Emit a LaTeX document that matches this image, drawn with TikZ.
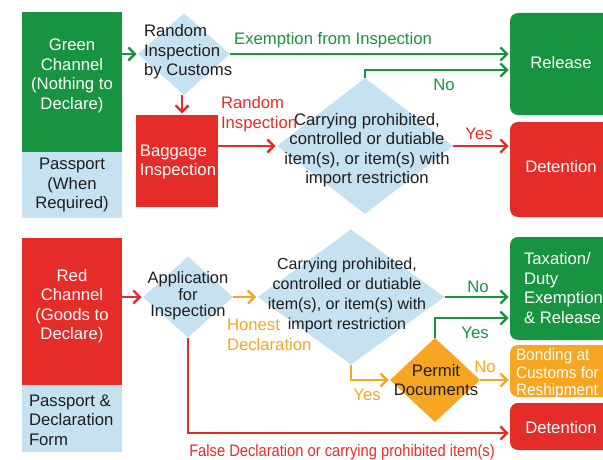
\documentclass[tikz,border=0pt]{standalone}
\usepackage{fontspec}
\setmainfont{Liberation Sans}
\usetikzlibrary{shapes.geometric,arrows.meta}
\definecolor{cgreen}{RGB}{24,148,64}
\definecolor{cred}{RGB}{228,45,40}
\definecolor{corange}{RGB}{246,166,35}
\definecolor{cblue}{RGB}{198,226,241}
\definecolor{ctext}{RGB}{30,30,30}
\begin{document}
\begin{tikzpicture}[x=1pt,y=-1pt,
  font=\fontsize{16.7}{19.5}\selectfont,
  every node/.style={inner sep=0pt,outer sep=0pt},
  sqbox/.style={draw=none},
  rbox/.style={draw=none,rounded corners=8pt},
  dia/.style={diamond,draw=none,fill=cblue,inner sep=0pt},
  txt/.style={align=center,text=ctext},
  wtxt/.style={align=center,text=white},
  lbl/.style={align=left},
  arr/.style={line width=2.3pt,shorten >=1.5pt,-{Straight Barb[length=6.5pt,width=13pt]}},
  garrow/.style={arr,draw=cgreen},
  rarrow/.style={arr,draw=cred},
  oarrow/.style={arr,draw=corange}]
\useasboundingbox (0,0) rectangle (603,460);
\clip (0,0) rectangle (603,460);
\coordinate (noY) at (0,70);
\coordinate (yesY) at (0,318);
\coordinate (falseY) at (0,433);

% ---------- top half ----------
\node[sqbox,fill=cgreen,minimum width=100pt,minimum height=140pt] (gch) at (72,82) {};
\node[wtxt] (gcht) at (72,76) {Green\\Channel\\(Nothing to\\Declare)};
\node[sqbox,fill=cblue,minimum width=100pt,minimum height=66pt] (pp1) at (72,185) {};
\node[txt] (pp1t) at (72,185) {Passport\\(When\\Required)};

\node[dia,minimum width=92pt,minimum height=82pt] (rnd) at (184,54) {};
\node[txt,align=left,anchor=west] (rndt) at (144,52) {Random\\Inspection\\by Customs};

\node[sqbox,fill=cred,minimum width=82pt,minimum height=92pt] (bag) at (177,161) {};
\node[wtxt,align=left] (bagt) at (178,162) {Baggage\\Inspection};

\node[dia,minimum width=176pt,minimum height=136pt] (d1) at (365,146) {};
\node[txt] (d1t) at (367,150) {Carrying prohibited,\\controlled or dutiable\\item(s), or item(s) with\\import restriction};

\node[rbox,fill=cgreen,minimum width=104pt,minimum height=102pt] (rel) at (562,64) {};
\node[wtxt] (relt) at (561,63) {Release};
\node[rbox,fill=cred,minimum width=104pt,minimum height=95pt] (det1) at (562,169.5) {};
\node[wtxt] (det1t) at (561,167) {Detention};

\node[lbl,text=cgreen] (exl) at (333,40) {Exemption from Inspection};
\node[lbl,text=cred,anchor=west] (ril) at (221,114) {Random\\Inspection};
\node[text=cgreen] (no1) at (444,85) {No};
\node[text=cred] (yes1) at (479,134) {Yes};

\draw[garrow] (gch.east |- rnd.west) -- (rnd.west);
\draw[garrow] (rnd.east) -- (rel.west |- rnd.east);
\draw[rarrow] ([xshift=-2pt]rnd.south) -- ([xshift=-2pt]rnd.south |- bag.north);
\draw[rarrow] (bag.east |- d1.west) -- (d1.west);
\draw[garrow] (d1.north) |- (rel.west |- noY);
\draw[rarrow] (d1.east) -- (det1.west |- d1.east);

% ---------- bottom half ----------
\node[sqbox,fill=cred,minimum width=100pt,minimum height=147pt] (rch) at (72,311.5) {};
\node[wtxt] (rcht) at (72,306) {Red\\Channel\\(Goods to\\Declare)};
\node[sqbox,fill=cblue,minimum width=100pt,minimum height=67pt] (pp2) at (72,418.5) {};
\node[txt,align=left,anchor=west] (pp2t) at (29,420) {Passport \&\\Declaration\\Form};

\node[dia,minimum width=90pt,minimum height=81pt] (app) at (188,297) {};
\node[txt,font=\fontsize{16.5}{16.5}\selectfont] (appt) at (188,296) {Application\\for\\Inspection};

\node[dia,minimum width=187pt,minimum height=135pt] (d2) at (351,297) {};
\node[txt,font=\fontsize{16}{20}\selectfont] (d2t) at (347,295) {Carrying prohibited,\\controlled or dutiable\\item(s), or item(s) with\\import restriction};

\node[diamond,draw=none,fill=corange,minimum width=90pt,minimum height=84pt] (pmt) at (435,380) {};
\node[txt] (pmtt) at (436,380) {Permit\\Documents};

\node[rbox,fill=cgreen,minimum width=104pt,minimum height=103pt] (tax) at (562,288.5) {};
\node[wtxt,align=left,anchor=west] (taxt) at (524,288) {Taxation/\\Duty\\Exemption\\\& Release};
\node[rbox,fill=corange,minimum width=104pt,minimum height=52pt] (bond) at (562,371) {};
\node[wtxt,align=left,anchor=west,font=\fontsize{16.5}{17.5}\selectfont] (bondt) at (516,374) {\scalebox{0.93}[1]{Bonding at}\\\scalebox{0.93}[1]{Customs for}\\\scalebox{0.93}[1]{Reshipment}};
\node[rbox,fill=cred,minimum width=104pt,minimum height=47pt] (det2) at (562,426.5) {};
\node[wtxt] (det2t) at (561,428) {Detention};

\node[lbl,text=corange,anchor=west] (hdl) at (227,335) {Honest\\Declaration};
\node[text=cgreen] (no2) at (478,287) {No};
\node[text=cgreen] (yes2) at (475,333) {Yes};
\node[text=corange] (no3) at (485,367) {No};
\node[text=corange] (yes3) at (367,395) {Yes};
\node[text=cred] (fdl) at (342,452) {\scalebox{0.88}[1]{False Declaration or carrying prohibited item(s)}};

\draw[rarrow] (rch.east |- app.west) -- (app.west);
\draw[oarrow] (app.east) -- (d2.west);
\draw[garrow] (d2.east) -- (tax.west |- d2.east);
\draw[oarrow] (d2.south) |- (pmt.west);
\draw[oarrow] (pmt.east) -- (bond.west |- pmt.east);
\draw[garrow] (pmt.north) |- (tax.west |- yesY);
\draw[rarrow] (app.south) |- (det2.west |- falseY);
\end{tikzpicture}
\end{document}
